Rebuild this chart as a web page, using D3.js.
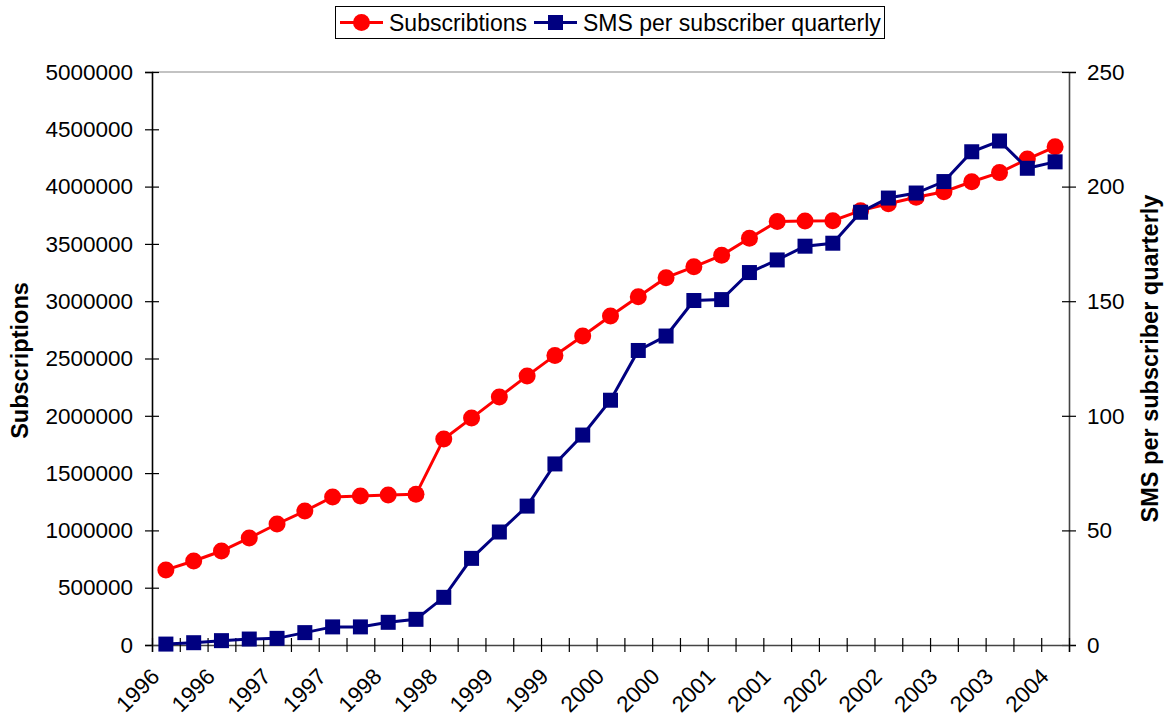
<!DOCTYPE html>
<html>
<head>
<meta charset="utf-8">
<script src="https://cdn.jsdelivr.net/npm/d3@7"></script>
<style>
  body { margin: 0; background: #fff; }
  svg { font-family: Arial, "Liberation Sans", sans-serif; }
</style>
</head>
<body>
<div id="chart"></div>
<script>
// quarters, labelled by year (Q1 1996 .. Q1 2004)
var quarters = ["1996","1996","1996","1996","1997","1997","1997","1997",
                "1998","1998","1998","1998","1999","1999","1999","1999",
                "2000","2000","2000","2000","2001","2001","2001","2001",
                "2002","2002","2002","2002","2003","2003","2003","2003","2004"];

var subscriptions = [655000, 733000, 820000, 934000, 1056000, 1169000, 1292000, 1300000,
                     1309000, 1315000, 1798000, 1980000, 2165000, 2348000, 2527000, 2697000,
                     2871000, 3038000, 3205000, 3300000, 3400000, 3550000, 3695000, 3700000,
                     3702000, 3790000, 3850000, 3907000, 3955000, 4042000, 4122000, 4240000, 4347000];

var smsPerSub = [0.4, 1.0, 1.9, 2.6, 2.9, 5.4, 7.9, 7.9,
                 9.9, 11.2, 20.8, 37.8, 49.3, 60.6, 79.0, 91.6,
                 106.8, 128.5, 134.8, 150.3, 150.7, 162.5, 168.0, 174.0,
                 175.3, 188.8, 195.0, 197.2, 202.2, 215.2, 219.9, 208.0, 210.8];

var leftTicks = [0, 500000, 1000000, 1500000, 2000000, 2500000, 3000000, 3500000, 4000000, 4500000, 5000000];
var rightTicks = [0, 50, 100, 150, 200, 250];

var W = 1168, H = 720;
var plot = {left: 152, right: 1069, top: 72, bottom: 645};

var svg = d3.select('#chart').append('svg')
    .attr('width', W)
    .attr('height', H);

// scales
var x = d3.scaleBand().domain(d3.range(quarters.length)).range([plot.left, plot.right]);
var xEdge = d3.scaleLinear().domain([0, quarters.length]).range([plot.left, plot.right]);
var yL = d3.scaleLinear().domain([0, 5000000]).range([plot.bottom, plot.top]);
var yR = d3.scaleLinear().domain([0, 250]).range([plot.bottom, plot.top]);
function cx(i) { return x(i) + x.bandwidth() / 2; }

// top border of plot area
svg.append('line')
    .attr('x1', plot.left).attr('x2', plot.right)
    .attr('y1', plot.top).attr('y2', plot.top)
    .attr('stroke', '#888').attr('stroke-width', 1.2);

// left axis
var gL = svg.append('g')
    .attr('transform', 'translate(' + plot.left + ',0)')
    .call(d3.axisLeft(yL).tickValues(leftTicks).tickFormat(d3.format('d')).tickSize(7).tickPadding(12));
gL.selectAll('.tick line').attr('x1', 7).attr('x2', -7);

// right axis
var gR = svg.append('g')
    .attr('transform', 'translate(' + plot.right + ',0)')
    .call(d3.axisRight(yR).tickValues(rightTicks).tickSize(7).tickPadding(11));
gR.selectAll('.tick line').attr('x1', -7).attr('x2', 7);

// bottom axis: ticks on category boundaries
var gB = svg.append('g')
    .attr('transform', 'translate(0,' + plot.bottom + ')')
    .call(d3.axisBottom(xEdge).tickValues(d3.range(quarters.length + 1)).tickFormat('').tickSize(7));
gB.selectAll('.tick line').attr('y1', -7).attr('y2', 7);

[gL, gR, gB].forEach(function(g) {
  g.selectAll('.tick text').attr('font-size', 22.5).attr('fill', '#000')
      .attr('font-family', 'Arial, "Liberation Sans", sans-serif');
  g.selectAll('.tick line').attr('stroke', '#000').attr('stroke-width', 1.2);
  g.select('.domain').attr('stroke-width', 1.6);
});
gL.select('.domain').attr('stroke', '#000');
gR.select('.domain').attr('stroke', '#444');
gB.select('.domain').attr('stroke', '#444');

// x labels every second quarter
svg.append('g').selectAll('text')
    .data(quarters.map(function(q, i) { return {q: q, i: i}; }).filter(function(d) { return d.i % 2 === 0; }))
    .enter().append('text')
    .attr('transform', function(d) { return 'translate(' + (cx(d.i) - 5) + ',678) rotate(-45)'; })
    .attr('text-anchor', 'end')
    .attr('font-size', 22.5)
    .text(function(d) { return d.q; });

// axis titles
svg.append('text')
    .attr('transform', 'translate(28,' + ((plot.top + plot.bottom) / 2 + 2) + ') rotate(-90)')
    .attr('text-anchor', 'middle')
    .attr('font-size', 23.5).attr('font-weight', 'bold')
    .text('Subscriptions');

svg.append('text')
    .attr('transform', 'translate(1158,' + ((plot.top + plot.bottom) / 2) + ') rotate(-90)')
    .attr('text-anchor', 'middle')
    .attr('font-size', 23.5).attr('font-weight', 'bold')
    .text('SMS per subscriber quarterly');

// lines
var lineSub = d3.line()
    .x(function(d, i) { return cx(i); })
    .y(function(d) { return yL(d); });
var lineSms = d3.line()
    .x(function(d, i) { return cx(i); })
    .y(function(d) { return yR(d); });

svg.append('path')
    .datum(subscriptions)
    .attr('fill', 'none')
    .attr('stroke', '#ff0000')
    .attr('stroke-width', 3)
    .attr('d', lineSub);

svg.append('g').selectAll('circle')
    .data(subscriptions)
    .enter().append('circle')
    .attr('cx', function(d, i) { return cx(i); })
    .attr('cy', function(d) { return yL(d); })
    .attr('r', 8.5)
    .attr('fill', '#ff0000');

svg.append('path')
    .datum(smsPerSub)
    .attr('fill', 'none')
    .attr('stroke', '#000080')
    .attr('stroke-width', 3)
    .attr('d', lineSms);

svg.append('g').selectAll('rect')
    .data(smsPerSub)
    .enter().append('rect')
    .attr('x', function(d, i) { return cx(i) - 7.5; })
    .attr('y', function(d) { return yR(d) - 7.5; })
    .attr('width', 15)
    .attr('height', 15)
    .attr('fill', '#000080');

// legend
var legend = svg.append('g');
legend.append('rect')
    .attr('x', 335.5).attr('y', 6.5)
    .attr('width', 549).attr('height', 32)
    .attr('fill', '#fff').attr('stroke', '#000').attr('stroke-width', 1);

legend.append('line')
    .attr('x1', 340).attr('x2', 383).attr('y1', 22.5).attr('y2', 22.5)
    .attr('stroke', '#ff0000').attr('stroke-width', 3);
legend.append('circle')
    .attr('cx', 361.5).attr('cy', 22.5).attr('r', 8.5).attr('fill', '#ff0000');
legend.append('text')
    .attr('x', 389).attr('y', 31)
    .attr('font-size', 23)
    .text('Subscribtions');

legend.append('line')
    .attr('x1', 534).attr('x2', 577).attr('y1', 22.5).attr('y2', 22.5)
    .attr('stroke', '#000080').attr('stroke-width', 3);
legend.append('rect')
    .attr('x', 548).attr('y', 15).attr('width', 15).attr('height', 15).attr('fill', '#000080');
legend.append('text')
    .attr('x', 583).attr('y', 31)
    .attr('font-size', 23)
    .text('SMS per subscriber quarterly');
</script>
</body>
</html>
